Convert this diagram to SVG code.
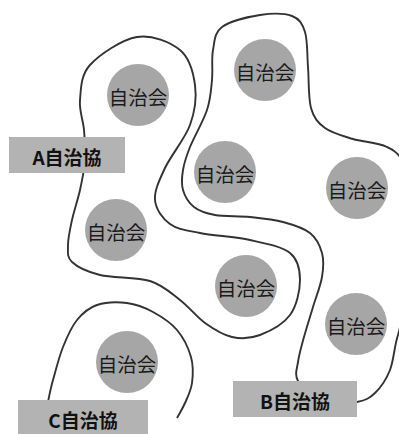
<svg xmlns="http://www.w3.org/2000/svg" width="399" height="434" viewBox="0 0 399 434">
<style>
.b{fill:none;stroke:#333;stroke-width:1.9}
.c{fill:#a6a6a6}
.l{fill:#b3b3b3}
.t{font-family:"Noto Sans CJK JP","Noto Sans CJK SC",sans-serif;font-size:19.5px;fill:#1a1a1a;text-anchor:middle;dominant-baseline:central}
.lt{font-family:"Noto Sans CJK JP","Noto Sans CJK SC",sans-serif;font-size:19px;font-weight:bold;fill:#111;text-anchor:middle;dominant-baseline:central}
</style>
<rect width="399" height="434" fill="#fff"/>
<g id="connectors">
<path id="boundary-A" class="b" d="M137,37 C152,34.5 170.3,42 180,50 C189.7,58 193.3,72.5 195,85 C196.7,97.5 195,111.2 190,125 C185,138.8 170.8,155.5 165,168 C159.2,180.5 154.2,190.7 155,200 C155.8,209.3 162.5,218.5 170,224 C177.5,229.5 186.7,230.3 200,233 C213.3,235.7 235,236.7 250,240 C265,243.3 281.7,246.3 290,253 C298.3,259.7 300,269.7 300,280 C300,290.3 296.7,305.8 290,315 C283.3,324.2 269.7,331.3 260,335 C250.3,338.7 241.2,339 232,337 C222.8,335 213.7,329.2 205,323 C196.3,316.8 189.2,307 180,300 C170.8,293 163.3,285.2 150,281 C136.7,276.8 113,278.2 100,275 C87,271.8 77.3,267 72,262 C66.7,257 68,252 68,245 C68,238 70,229.2 72,220 C74,210.8 77.8,200 80,190 C82.2,180 84.3,170 85,160 C85.7,150 84.8,140 84,130 C83.2,120 79,110.8 80,100 C81,89.2 80.5,75.5 90,65 C99.5,54.5 122,39.5 137,37 Z"/>
<path id="boundary-B" class="b" d="M260,15 C271.7,13.2 284.5,13.2 292,16 C299.5,18.8 302.3,23.5 305,32 C307.7,40.5 307,54.3 308,67 C309,79.7 308.2,97.8 311,108 C313.8,118.2 318,122.8 325,128 C332,133.2 342.7,135.8 353,139 C363.3,142.2 377.2,141.8 387,147 C397,151 405,160 407,175 C410,220 408,300 398,335 C394.3,345.8 393.8,360.3 390,370 C386.2,379.7 380.5,387.7 375,393 C369.5,398.3 366.2,400 357,402 C347.8,404 329.8,408.5 320,405 C310.2,401.5 301.7,388.2 298,381 C294.3,373.8 297,369.3 298,362 C299,354.7 301.5,346.2 304,337 C306.5,327.8 310,317 313,307 C316,297 320.5,286 322,277 C323.5,268 324,260.3 322,253 C320,245.7 316.5,238.2 310,233 C303.5,227.8 293,224.7 283,222 C273,219.3 261.3,218.2 250,217 C238.7,215.8 224.3,216.7 215,215 C205.7,213.3 199.3,211.2 194,207 C188.7,202.8 184.8,196.2 183,190 C181.2,183.8 181.8,177.2 183,170 C184.2,162.8 186,157 190,147 C194,137 203.3,121.2 207,110 C210.7,98.8 211,90 212,80 C213,70 211.3,58.8 213,50 C214.7,41.2 214.2,32.8 222,27 C229.8,21.2 248.3,16.8 260,15 Z"/>
<path id="boundary-C" class="b" d="M48,402 C49.7,393.3 50.5,388.8 53,380 C55.5,371.2 59,357 63,347 C67,337 71.3,327 77,320 C82.7,313 88.7,307.8 97,305 C105.3,302.2 117.7,301.8 127,303 C136.3,304.2 144.7,307.5 153,312 C161.3,316.5 170.7,322.5 177,330 C183.3,337.5 188.5,348.2 191,357 C193.5,365.8 193,375.3 192,383 C191,390.7 187.5,397.2 185,403 C182.5,408.8 179.7,413 177,418"/>
</g>
<g id="node-1"><circle class="c" cx="138" cy="95" r="31"/><text class="t" x="138" y="96">自治会</text></g>
<g id="node-2"><circle class="c" cx="265" cy="70" r="31"/><text class="t" x="265" y="71">自治会</text></g>
<g id="node-3"><circle class="c" cx="225" cy="172" r="31"/><text class="t" x="225" y="173">自治会</text></g>
<g id="node-4"><circle class="c" cx="357" cy="188" r="31"/><text class="t" x="357" y="189">自治会</text></g>
<g id="node-5"><circle class="c" cx="116" cy="230" r="31"/><text class="t" x="116" y="231">自治会</text></g>
<g id="node-6"><circle class="c" cx="246" cy="286" r="31"/><text class="t" x="246" y="287">自治会</text></g>
<g id="node-7"><circle class="c" cx="356" cy="324" r="31"/><text class="t" x="356" y="325">自治会</text></g>
<g id="node-8"><circle class="c" cx="127" cy="362" r="31"/><text class="t" x="127" y="363">自治会</text></g>
<g id="label-A"><rect class="l" x="9" y="137" width="116" height="36"/><text class="lt" x="67" y="156">A自治協</text></g>
<g id="label-B"><rect class="l" x="233" y="381" width="124" height="36"/><text class="lt" x="295" y="400">B自治協</text></g>
<g id="label-C"><rect class="l" x="18" y="400" width="130" height="34"/><text class="lt" x="83" y="419">C自治協</text></g>
</svg>
